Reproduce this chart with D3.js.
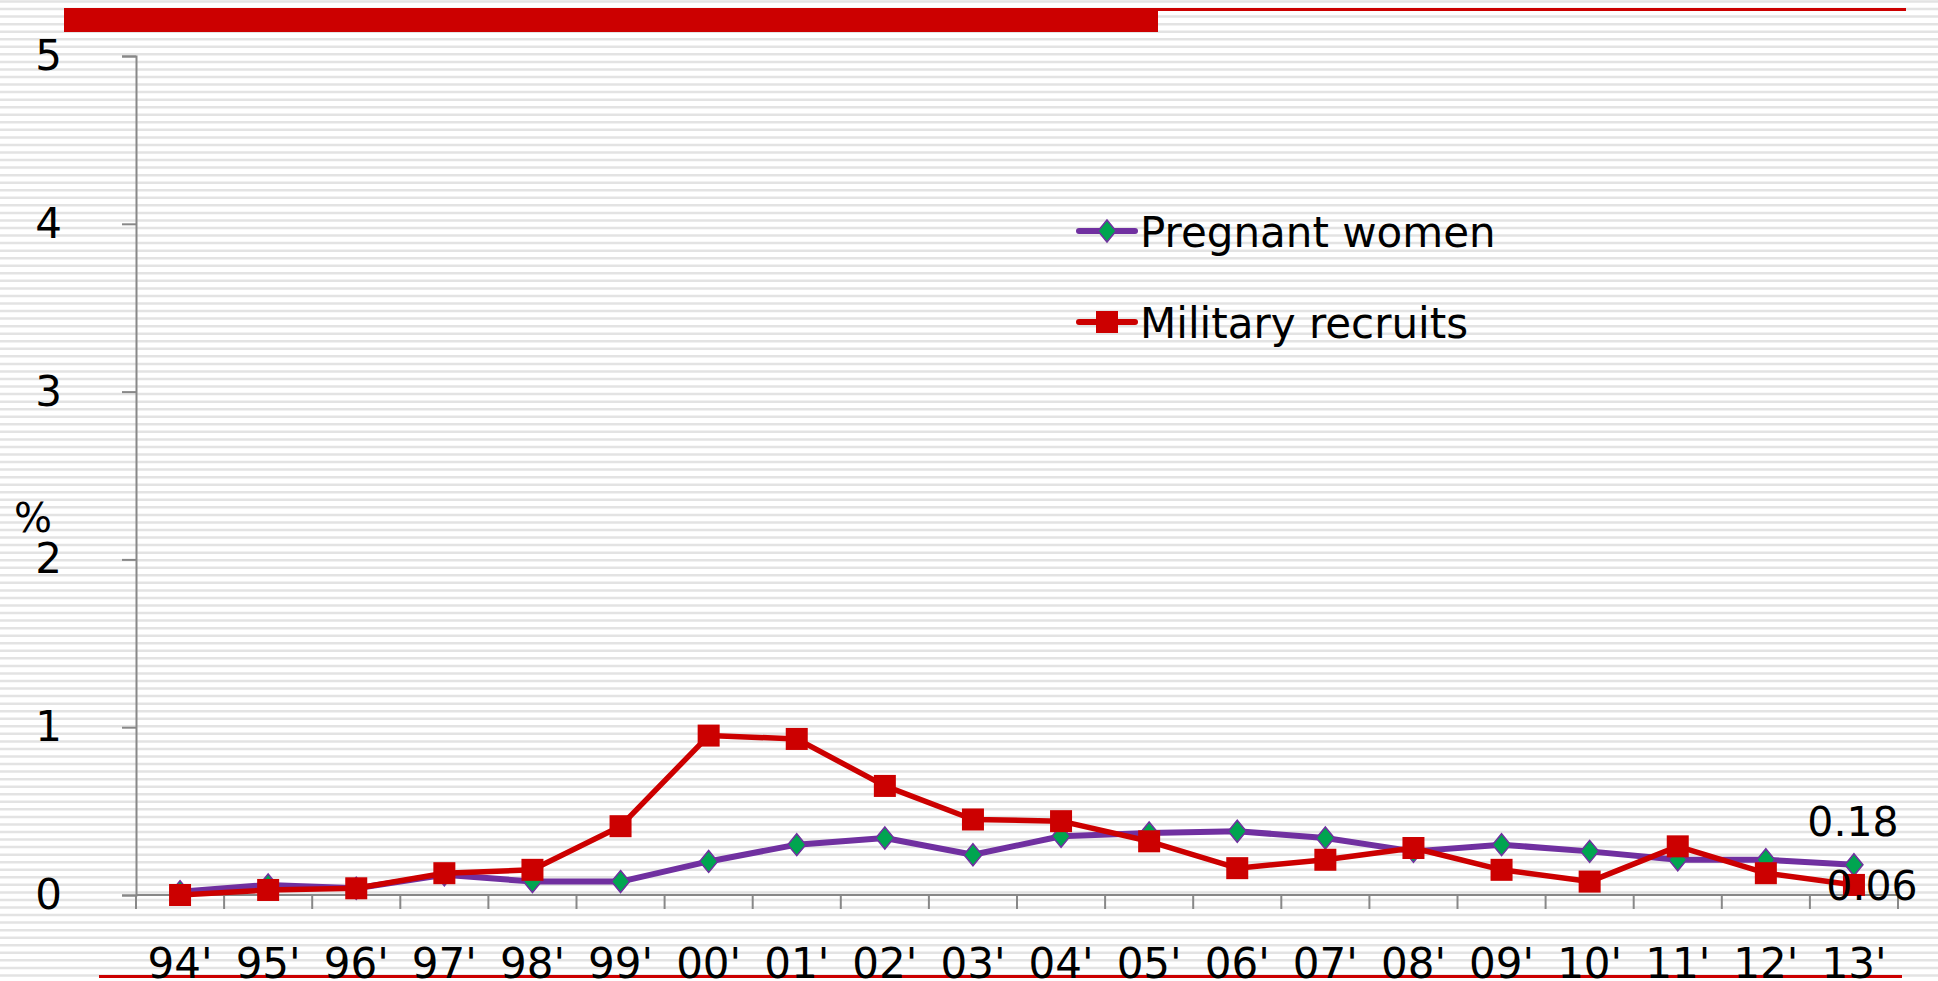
<!DOCTYPE html>
<html lang="en">
<head>
  <meta charset="UTF-8">
  <title>Pregnant women vs military recruits</title>
  <script src="https://d3js.org/d3.v7.min.js"></script>
  <style>
    html, body { margin: 0; padding: 0; background: #fff; }
    svg { display: block; font-family: "DejaVu Sans", Verdana, sans-serif; }
  </style>
</head>
<body>
  <svg width="1938" height="981"></svg>
  <script>
    // Data
    const years = ["94'", "95'", "96'", "97'", "98'", "99'", "00'", "01'", "02'", "03'",
                   "04'", "05'", "06'", "07'", "08'", "09'", "10'", "11'", "12'", "13'"];
    const pregnant = [0.02, 0.06, 0.04, 0.12, 0.08, 0.08, 0.20, 0.30, 0.34, 0.24,
                      0.35, 0.37, 0.38, 0.34, 0.26, 0.30, 0.26, 0.21, 0.21, 0.18];
    const recruits = [0.00, 0.03, 0.04, 0.13, 0.15, 0.41, 0.95, 0.93, 0.65, 0.45,
                      0.44, 0.32, 0.16, 0.21, 0.28, 0.15, 0.08, 0.29, 0.13, 0.06];
    const yTicks = [0, 1, 2, 3, 4, 5];

    const svg = d3.select('svg');
    const W = 1938, H = 981;

    // Striped background
    svg.append('g')
      .selectAll('line')
      .data(d3.range(1.5, H, 7.55))
      .join('line')
      .attr('x1', 0).attr('x2', W)
      .attr('y1', d => d).attr('y2', d => d)
      .attr('stroke', '#e3e3e3')
      .attr('stroke-width', 2.5);

    // Decorative red bars
    svg.append('rect')
      .attr('x', 64).attr('y', 8).attr('width', 1094).attr('height', 24)
      .attr('fill', '#cc0000');
    svg.append('rect')
      .attr('x', 1158).attr('y', 8).attr('width', 748).attr('height', 3)
      .attr('fill', '#cc0000');
    svg.append('rect')
      .attr('x', 99).attr('y', 975).attr('width', 1803).attr('height', 3)
      .attr('fill', '#cc0000');

    const x = d3.scaleBand().domain(years).range([136, 1898]);
    const y = d3.scaleLinear().domain([0, 5]).range([895, 56]);
    const cx = d => x(d) + x.bandwidth() / 2;

    // Y axis
    const yAxis = svg.append('g')
      .attr('transform', 'translate(136,0)')
      .call(d3.axisLeft(y).tickValues(yTicks).tickSize(14).tickPadding(60).tickFormat(d3.format('d')));
    yAxis.select('.domain').attr('stroke', '#888').attr('stroke-width', 2);
    yAxis.selectAll('.tick line').attr('stroke', '#888').attr('stroke-width', 2);
    yAxis.selectAll('.tick text')
      .attr('font-size', 42)
      .attr('font-family', '"DejaVu Sans", Verdana, sans-serif')
      .attr('fill', '#000');

    // X axis
    svg.append('line')
      .attr('x1', 136).attr('x2', 1898)
      .attr('y1', y(0)).attr('y2', y(0))
      .attr('stroke', '#888').attr('stroke-width', 2);
    const bounds = years.map(d => x(d)).concat([x.range()[1]]);
    svg.append('g')
      .selectAll('line')
      .data(bounds)
      .join('line')
      .attr('x1', d => d).attr('x2', d => d)
      .attr('y1', y(0)).attr('y2', y(0) + 14)
      .attr('stroke', '#888').attr('stroke-width', 2);
    svg.append('g')
      .selectAll('text')
      .data(years)
      .join('text')
      .attr('x', d => cx(d))
      .attr('y', 978)
      .attr('text-anchor', 'middle')
      .attr('font-size', 42)
      .text(d => d);

    svg.append('text')
      .attr('x', 33).attr('y', 532)
      .attr('text-anchor', 'middle')
      .attr('font-size', 40)
      .text('%');

    // Lines
    const line = d3.line().x(d => cx(d[0])).y(d => y(d[1]));
    const purple = '#7030a0', red = '#cc0000', green = '#00a550';

    svg.append('path')
      .datum(years.map((d, i) => [d, pregnant[i]]))
      .attr('d', line)
      .attr('fill', 'none').attr('stroke', purple).attr('stroke-width', 6)
      .attr('stroke-linejoin', 'round');

    const diamond = (px, py) => `M${px},${py - 11}L${px + 9},${py}L${px},${py + 11}L${px - 9},${py}Z`;
    svg.append('g')
      .selectAll('path')
      .data(years.map((d, i) => [d, pregnant[i]]))
      .join('path')
      .attr('d', d => diamond(cx(d[0]), y(d[1])))
      .attr('fill', green).attr('stroke', purple).attr('stroke-width', 1.5);

    svg.append('path')
      .datum(years.map((d, i) => [d, recruits[i]]))
      .attr('d', line)
      .attr('fill', 'none').attr('stroke', red).attr('stroke-width', 5.5)
      .attr('stroke-linejoin', 'round');

    svg.append('g')
      .selectAll('rect')
      .data(years.map((d, i) => [d, recruits[i]]))
      .join('rect')
      .attr('x', d => cx(d[0]) - 11).attr('y', d => y(d[1]) - 11)
      .attr('width', 22).attr('height', 22)
      .attr('fill', red);

    // End labels
    const last = years.length - 1;
    svg.append('text')
      .attr('x', cx(years[last]) - 1).attr('y', y(pregnant[last]) - 29)
      .attr('text-anchor', 'middle').attr('font-size', 41)
      .text(pregnant[last].toFixed(2));
    svg.append('text')
      .attr('x', cx(years[last]) + 18).attr('y', y(recruits[last]) + 15)
      .attr('text-anchor', 'middle').attr('font-size', 41)
      .text(recruits[last].toFixed(2));

    // Legend
    const legend = svg.append('g');
    const items = [
      { name: 'Pregnant women', color: purple, y: 231, marker: 'diamond' },
      { name: 'Military recruits', color: red, y: 322, marker: 'square' }
    ];
    items.forEach(it => {
      legend.append('line')
        .attr('x1', 1079).attr('x2', 1135)
        .attr('y1', it.y).attr('y2', it.y)
        .attr('stroke', it.color).attr('stroke-width', 6)
        .attr('stroke-linecap', 'round');
      if (it.marker === 'diamond') {
        legend.append('path')
          .attr('d', diamond(1107, it.y))
          .attr('fill', green).attr('stroke', purple).attr('stroke-width', 1.5);
      } else {
        legend.append('rect')
          .attr('x', 1096).attr('y', it.y - 11).attr('width', 22).attr('height', 22)
          .attr('fill', red);
      }
      legend.append('text')
        .attr('x', 1140).attr('y', it.y + 16)
        .attr('font-size', 42)
        .text(it.name);
    });
  </script>
</body>
</html>
